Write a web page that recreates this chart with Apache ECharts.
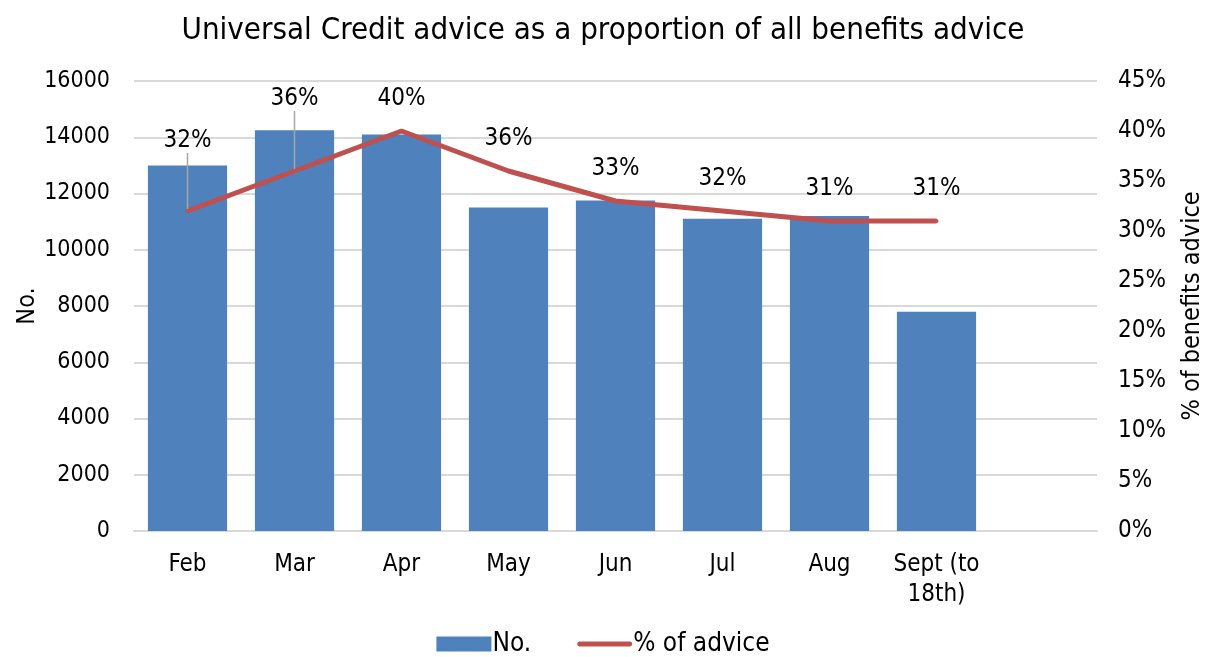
<!DOCTYPE html>
<html>
<head>
<meta charset="utf-8">
<script src="https://cdn.jsdelivr.net/npm/echarts@6/dist/echarts.min.js"></script>
<style>
html,body{margin:0;padding:0;background:#fff;}
#c{width:1206px;height:657px;}
</style>
</head>
<body>
<div id="c"></div>
<script>
const categories = ['Feb','Mar','Apr','May','Jun','Jul','Aug','Sept (to\n18th)',''];
const counts = [13000, 14250, 14100, 11500, 11750, 11100, 11200, 7800];
const pctAdvice = [32, 36, 40, 36, 33, 32, 31, 31];
const leftTicks = {min: 0, max: 16000, interval: 2000};
const rightTicks = {min: 0, max: 45, interval: 5};

const FONT = '"DejaVu Sans Condensed", "DejaVu Sans", sans-serif';
const chart = echarts.init(document.getElementById('c'));
const labelShift = {0: -38, 1: -40};

chart.setOption({
  animation: false,
  textStyle: {fontFamily: FONT, color: '#000'},
  title: {
    text: 'Universal Credit advice as a proportion of all benefits advice',
    left: 'center', top: 10,
    textStyle: {fontFamily: FONT, fontSize: 31, fontWeight: 'normal', color: '#000'}
  },
  grid: {left: 134, right: 109, top: 81, bottom: 126, containLabel: false, outerBoundsMode: 'none'},
  legend: {
    bottom: -5, left: 'center',
    itemWidth: 55, itemHeight: 15, itemGap: 46,
    textStyle: {fontFamily: FONT, fontSize: 26, color: '#000', padding: [0,0,0,-4]},
    data: [
      {name: 'No.', icon: 'rect'},
      {name: '% of advice', icon: 'path://M2,0 L53,0 A2.5,2.5 0 0 1 53,5 L2,5 A2.5,2.5 0 0 1 2,0 Z'}
    ]
  },
  xAxis: {
    type: 'category',
    data: categories,
    axisTick: {show: false},
    axisLine: {lineStyle: {color: '#d9d9d9', width: 2}},
    axisLabel: {fontFamily: FONT, fontSize: 24, color: '#000', margin: 19, lineHeight: 30, interval: 0}
  },
  yAxis: [
    {
      type: 'value', min: leftTicks.min, max: leftTicks.max, interval: leftTicks.interval,
      name: 'No.', nameLocation: 'middle', nameGap: 94, nameRotate: 90, nameMoveOverlap: false,
      nameTextStyle: {fontFamily: FONT, fontSize: 25, color: '#000'},
      axisLine: {show: false}, axisTick: {show: false},
      axisLabel: {fontFamily: FONT, fontSize: 23, color: '#000', margin: 24, formatter: v => String(v)},
      splitLine: {lineStyle: {color: '#d9d9d9', width: 2}}
    },
    {
      type: 'value', min: rightTicks.min, max: rightTicks.max, interval: rightTicks.interval,
      name: '% of benefits advice', nameLocation: 'middle', nameGap: 83, nameRotate: 90, nameMoveOverlap: false,
      nameTextStyle: {fontFamily: FONT, fontSize: 25, color: '#000'},
      axisLine: {show: false}, axisTick: {show: false},
      axisLabel: {fontFamily: FONT, fontSize: 24, color: '#000', margin: 21, formatter: v => v + '%'},
      splitLine: {show: false}
    }
  ],
  series: [
    {
      name: 'No.', type: 'bar', yAxisIndex: 0,
      data: counts, barWidth: '74%',
      itemStyle: {color: '#4f81bd'}
    },
    {
      name: '% of advice', type: 'line', yAxisIndex: 1,
      data: pctAdvice.map((v, i) => labelShift[i] !== undefined
        ? {value: v, labelLine: {show: true, lineStyle: {color: '#a6a6a6', width: 1.5}}}
        : v),
      symbol: 'circle', symbolSize: 4, showSymbol: true,
      lineStyle: {color: '#c0504d', width: 5},
      itemStyle: {color: '#c0504d'},
      label: {
        show: true, position: 'top', distance: 18,
        fontFamily: FONT, fontSize: 24, color: '#000',
        formatter: p => p.value + '%'
      },
      labelLayout: p => labelShift[p.dataIndex] !== undefined ? {dy: labelShift[p.dataIndex]} : {},
      labelLine: {show: false}
    }
  ]
});
</script>
</body>
</html>
